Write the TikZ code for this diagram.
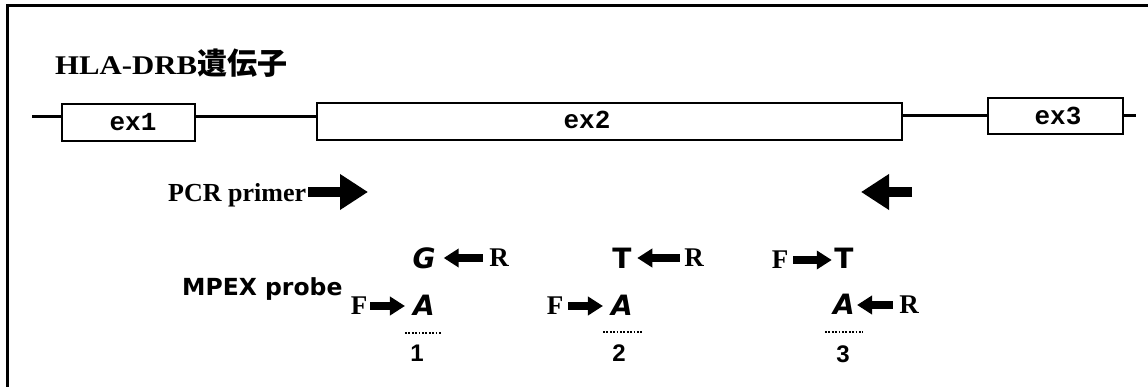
\documentclass[tikz,border=0pt]{standalone}
\usepackage{fontspec}
\setmainfont{Liberation Serif}
\setsansfont{DejaVu Sans}[BoldItalicFont={DejaVu Sans Bold Oblique}]
\newfontfamily\arialf{Liberation Sans}
\newfontfamily\courf{Liberation Mono}
\newfontfamily\cjkf{Noto Sans CJK JP}
\usetikzlibrary{arrows.meta}
\tikzset{
  frameline/.style={line width=3pt},
  geneline/.style={line width=3pt},
  exbox/.style={draw, line width=2.5pt, inner sep=0pt},
  exlabel/.style={font=\courf\bfseries\fontsize{26}{26}\selectfont, inner sep=0pt},
  bigarrow/.style={line width=9.5pt, -{Triangle[length=28pt,width=34pt]}},
  smallarrow/.style={line width=8pt, -{Triangle[length=15pt,width=18pt]}},
  base/.style={font=\sffamily\bfseries\fontsize{28}{28}\selectfont, inner sep=0pt},
  fr/.style={font=\bfseries\fontsize{27}{27}\selectfont, inner sep=0pt},
  num/.style={font=\arialf\bfseries\fontsize{24}{24}\selectfont, inner sep=0pt},
  dotline/.style={line width=2.2pt, dash pattern=on 1.8pt off 1.6pt},
}
\begin{document}
\begin{tikzpicture}[x=1pt,y=-1pt]
\useasboundingbox (0,0) rectangle (1148,387);
% frame (only top and left edges are visible)
\draw[frameline] (7,395) -- (7,6) -- (1155,6);

% title
\node[anchor=west, inner sep=0pt] (title) at (55,63)
  {\bfseries\fontsize{27}{27}\selectfont\addfontfeatures{FakeStretch=1.14}HLA-DRB\cjkf\bfseries\fontsize{30}{30}\selectfont 遺伝子};

% gene
\coordinate (lstart) at (32,117);
\coordinate (rend) at (1136,116);
\node[exbox, minimum width=133pt, minimum height=37pt] (ex1) at (128.5,122.5) {};
\node[exbox, minimum width=585pt, minimum height=37pt] (ex2) at (609.5,121.5) {};
\node[exbox, minimum width=135pt, minimum height=36pt] (ex3) at (1055.5,116) {};
\node[exlabel] (l1) at (133,122) {ex1};
\node[exlabel] (l2) at (587,120) {ex2};
\node[exlabel] (l3) at (1058,116) {ex3};
\draw[geneline] (lstart) -- (lstart -| ex1.west);
\draw[geneline] (ex1.east |- lstart) -- (ex2.west |- lstart);
\draw[geneline] (ex2.east |- rend) -- (ex3.west |- rend);
\draw[geneline] (ex3.east |- rend) -- (rend);

% PCR primers
\node[anchor=west, inner sep=0pt, font=\bfseries\fontsize{26}{26}\selectfont] (pcr) at (168,195) {PCR primer};
\coordinate (pf1) at (308,192);
\coordinate (pf2) at (368,192);
\coordinate (pr1) at (912,192);
\coordinate (pr2) at (861,192);
\draw[bigarrow] (pf1) -- (pf2);
\draw[bigarrow] (pr1) -- (pr2);

% MPEX probe
\node[anchor=west, inner sep=0pt, font=\sffamily\bfseries\fontsize{23.5}{23.5}\selectfont] (mpex) at (182,289) {MPEX probe};

% probe 1
\node[base] (G1) at (424,258) {\itshape G};
\node[fr] (R1) at (499,258) {R};
\node[fr] (F1) at (359,306) {F};
\node[base] (A1) at (424,305) {\itshape A};
\draw[smallarrow, shorten <=6.5pt, shorten >=8pt] (R1) -- (G1);
\draw[smallarrow, shorten <=3pt, shorten >=8pt] (F1.east) -- (F1.east -| A1.west);
\draw[dotline] (405,333) -- (442,333);
\node[num] (n1) at (417,353) {1};

% probe 2
\node[base] (T2) at (622,258) {T};
\node[fr] (R2) at (694,258) {R};
\node[fr] (F2) at (555,306) {F};
\node[base] (A2) at (622,305) {\itshape A};
\draw[smallarrow, shorten <=4.5pt, shorten >=5.5pt] (R2) -- (T2);
\draw[smallarrow, shorten <=5pt, shorten >=8pt] (F2.east) -- (F2.east -| A2.west);
\draw[dotline] (603,332) -- (642,332);
\node[num] (n2) at (619,353) {2};

% probe 3
\node[fr] (F3) at (780,260) {F};
\node[base] (T3) at (844,258) {T};
\node[base] (A3) at (844,304) {\itshape A};
\node[fr] (R3) at (909,305) {R};
\draw[smallarrow, shorten <=5pt, shorten >=2.5pt] (F3.east) -- (F3.east -| T3.west);
\draw[smallarrow, shorten <=6.5pt, shorten >=2pt] (R3.west) -- (R3.west -| A3.east);
\draw[dotline] (825,332) -- (863,332);
\node[num] (n3) at (843,354) {3};
\end{tikzpicture}
\end{document}
